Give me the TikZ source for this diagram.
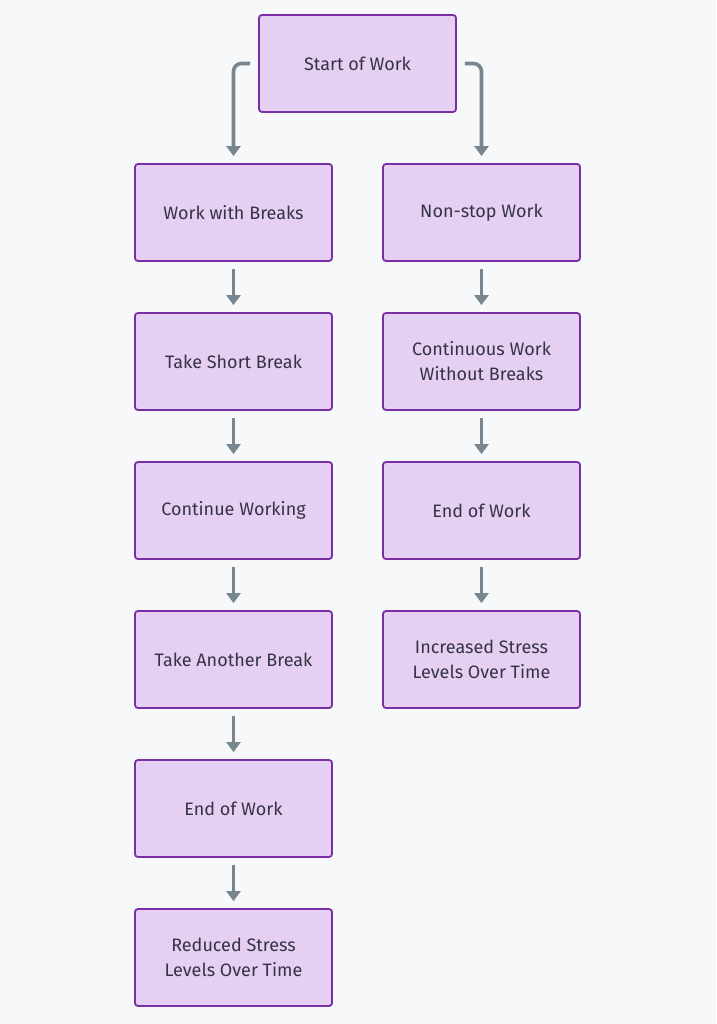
\documentclass[tikz,border=0pt]{standalone}
\usepackage{fontspec}
\setmainfont{Fira Sans}
\usepackage{tikz}
\usetikzlibrary{positioning, arrows.meta}
\definecolor{boxfill}{HTML}{E5D0F3}
\definecolor{boxline}{HTML}{7B2FA6}
\definecolor{arrowgray}{HTML}{78868F}
\definecolor{textdark}{HTML}{363345}
\definecolor{bg}{HTML}{F7F8FA}

\begin{document}
\begin{tikzpicture}[x=1pt, y=1pt,
			font=\fontsize{18}{25}\selectfont,
			box/.style={draw=boxline, fill=boxfill, line width=1.8pt, rounded corners=3pt,
				minimum width=197pt, minimum height=97pt, align=center, text=textdark, inner sep=0pt},
			flow/.style={draw=arrowgray, line width=3.6pt, -{Triangle[width=14pt,length=10pt]},
				shorten >=7pt, shorten <=7pt},
			turn/.style={flow, rounded corners=8pt, shorten <=0pt},
			node distance=50.2pt]
			
			\fill[bg] (0,0) rectangle (716,-1024);
			\useasboundingbox (0,0) rectangle (716,-1024);
			
			\node[box] (start) at (357.5,-63.5) {Start of Work};
			
			% work with breaks
			\node[box] (wb) at (233.5,-212.5) {Work with Breaks};
			\node[box, below=of wb] (short) {Take Short Break};
			\node[box, below=of short] (cont) {Continue Working};
			\node[box, below=of cont] (another) {Take Another Break};
			\node[box, below=of another] (endl) {End of Work};
			\node[box, below=of endl] (reduced) {Reduced Stress\\Levels Over Time};
			
			% non-stop work
			\node[box] (ns) at (481.5,-212.5) {Non-stop Work};
			\node[box, below=of ns] (nobreak) {Continuous Work\\Without Breaks};
			\node[box, below=of nobreak] (endr) {End of Work};
			\node[box, below=of endr] (increased) {Increased Stress\\Levels Over Time};
			
			\draw[turn] ([xshift=-8pt]start.west) -| (wb);
			\draw[turn] ([xshift=8pt]start.east) -| (ns);
			
			\draw[flow] (wb) -- (short);
			\draw[flow] (short) -- (cont);
			\draw[flow] (cont) -- (another);
			\draw[flow] (another) -- (endl);
			\draw[flow] (endl) -- (reduced);
			
			\draw[flow] (ns) -- (nobreak);
			\draw[flow] (nobreak) -- (endr);
			\draw[flow] (endr) -- (increased);
		\end{tikzpicture}
\end{document}
